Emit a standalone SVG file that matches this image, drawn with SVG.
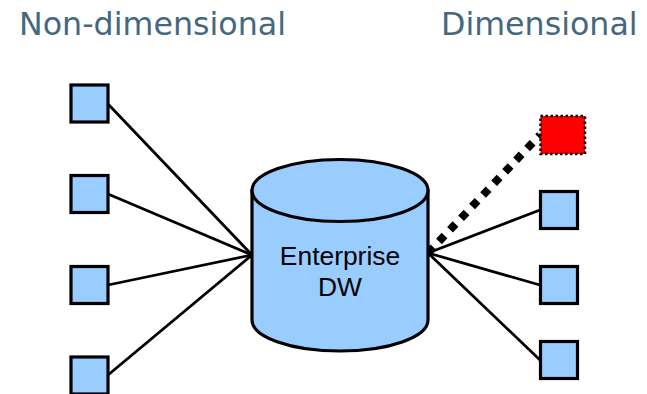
<svg xmlns="http://www.w3.org/2000/svg" width="647" height="394" viewBox="0 0 647 394">
<style>
.t{font-family:"DejaVu Sans",Verdana,sans-serif;font-size:31.700px;fill:#46687f}
.c{font-family:"Liberation Sans",Arial,sans-serif;font-size:26.400px;fill:#000;text-anchor:middle}
.b{fill:#99ccff;stroke:#000;stroke-width:3.200}
.l{stroke:#000;stroke-width:2.800;fill:none}
</style>
<rect width="647" height="394" fill="#fff"/>
<text class="t" x="19" y="35">Non-dimensional</text>
<text class="t" x="441" y="35">Dimensional</text>
<g id="connectors">
<line class="l" x1="108" y1="104" x2="252" y2="255"/>
<line class="l" x1="108" y1="194" x2="252" y2="255"/>
<line class="l" x1="108" y1="285" x2="252" y2="255"/>
<line class="l" x1="108" y1="375" x2="252" y2="255"/>
<line class="l" x1="428" y1="253" x2="540" y2="210"/>
<line class="l" x1="428" y1="253" x2="540" y2="285"/>
<line class="l" x1="428" y1="253" x2="540" y2="360"/>
<line x1="428" y1="253" x2="540" y2="135" stroke="#000" stroke-width="8" stroke-dasharray="8 8"/>
</g>
<g id="enterprise-dw">
<path class="b" d="M252 190.500V320A88 31 0 0 0 428 320V190.500Z"/>
<ellipse class="b" cx="340" cy="190.500" rx="88" ry="31"/>
<text class="c" x="340" y="265">Enterprise</text>
<text class="c" x="340" y="296">DW</text>
</g>
<g id="left-1"><rect class="b" x="71" y="85" width="37" height="37"/></g>
<g id="left-2"><rect class="b" x="71" y="175.500" width="37" height="37"/></g>
<g id="left-3"><rect class="b" x="71" y="266.500" width="37" height="37"/></g>
<g id="left-4"><rect class="b" x="71" y="357" width="37" height="37"/></g>
<g id="right-red"><rect x="540.500" y="116" width="44.500" height="38" fill="#ff0000" stroke="#000" stroke-width="2.500" stroke-dasharray="2.500 2.500"/></g>
<g id="right-1"><rect class="b" x="540.500" y="191.500" width="37" height="37"/></g>
<g id="right-2"><rect class="b" x="540.500" y="266.500" width="37" height="37"/></g>
<g id="right-3"><rect class="b" x="540.500" y="341.500" width="37" height="37"/></g>
</svg>
